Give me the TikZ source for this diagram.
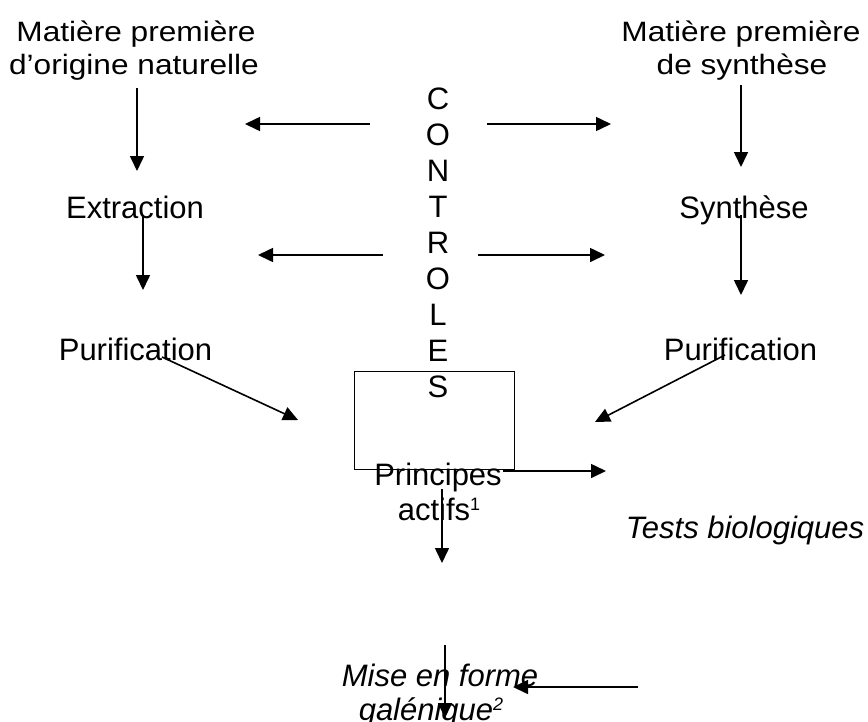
\documentclass[tikz,border=0pt]{standalone}
\usepackage{fontspec}
\setmainfont{Liberation Sans}
\newfontfamily\topfont[FakeStretch=1.13]{Liberation Sans}
\usetikzlibrary{arrows.meta}
\newcommand{\supnum}[1]{\raisebox{10pt}{\fontsize{18}{18}\selectfont #1}}
\begin{document}
\begin{tikzpicture}[x=1pt,y=-1pt,
  lbl/.style={anchor=base, inner sep=0pt, font=\fontsize{31}{36}\selectfont},
  toplbl/.style={anchor=base, inner sep=0pt, font=\topfont\fontsize{28}{32}\selectfont},
  itl/.style={anchor=base, inner sep=0pt, font=\fontsize{31}{36}\selectfont\itshape},
  arr/.style={draw, line width=1.6pt, -{Triangle[length=15pt,width=14pt]}},
  boxst/.style={draw, line width=1pt, minimum width=160pt, minimum height=98pt, inner sep=0pt}]
\useasboundingbox[fill=white] (0,0) rectangle (868,721);
% labels
\node[toplbl] (natA) at (136,41) {Matière première};
\node[toplbl] (natB) at (134,74) {d’origine naturelle};
\node[toplbl] (synA) at (741,41) {Matière première};
\node[toplbl] (synB) at (742,74) {de synthèse};
\node[lbl] (extr) at (135,218) {Extraction};
\node[lbl] (synth) at (744,218) {Synthèse};
\node[lbl] (purL) at (135.5,360) {Purification};
\node[lbl] (purR) at (740.5,360) {Purification};
\node[anchor=north, inner sep=0pt, align=center, font=\fontsize{31}{36}\selectfont] (ctrl) at (438,87.5) {C\\O\\N\\T\\R\\O\\L\\E\\S};
\node[boxst] (box) at (434,420) {};
\node[lbl] (paA) at (438,485) {Principes};
\node[lbl] (paB) at (439,520) {actifs\supnum{1}};
\node[itl] (tests) at (745,538) {Tests biologiques};
\node[itl] (miseA) at (440,686) {Mise en forme};
\node[itl] (miseB) at (431,720) {galénique\supnum{2}};
% connector ends
\coordinate (v1s) at (137,88);  \coordinate (v1e) at (137,171);
\coordinate (v2s) at (741,85);  \coordinate (v2e) at (741,167);
\coordinate (h1s) at (370,124); \coordinate (h1e) at (245,124);
\coordinate (h2s) at (487,124); \coordinate (h2e) at (611,124);
\coordinate (v3s) at (143,215); \coordinate (v3e) at (143,290);
\coordinate (v4s) at (741,215); \coordinate (v4e) at (741,295);
\coordinate (h3s) at (383,255); \coordinate (h3e) at (258,255);
\coordinate (h4s) at (478,255); \coordinate (h4e) at (605,255);
\coordinate (d1s) at (162,357); \coordinate (d1e) at (298,420);
\coordinate (d2s) at (725,355); \coordinate (d2e) at (595,422);
\coordinate (h5s) at (503,471); \coordinate (h5e) at (606,471);
\coordinate (v5s) at (442,489); \coordinate (v5e) at (442,563);
\coordinate (v6s) at (445,645); \coordinate (v6e) at (445,718);
\coordinate (h6s) at (638,687); \coordinate (h6e) at (513,687);
% connectors
\draw[arr] (v1s) -- (v1e);
\draw[arr] (v2s) -- (v2e);
\draw[arr] (h1s) -- (h1e);
\draw[arr] (h2s) -- (h2e);
\draw[arr] (v3s) -- (v3e);
\draw[arr] (v4s) -- (v4e);
\draw[arr] (h3s) -- (h3e);
\draw[arr] (h4s) -- (h4e);
\draw[arr] (d1s) -- (d1e);
\draw[arr] (d2s) -- (d2e);
\draw[arr] (h5s) -- (h5e);
\draw[arr] (v5s) -- (v5e);
\draw[arr] (v6s) -- (v6e);
\draw[arr] (h6s) -- (h6e);
\end{tikzpicture}
\end{document}
